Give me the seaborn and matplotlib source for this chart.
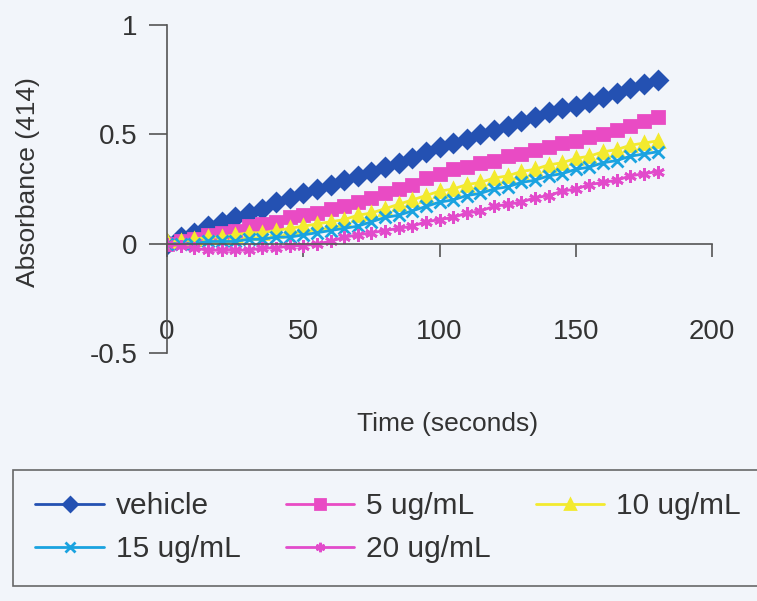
import matplotlib
matplotlib.use("Agg")
import matplotlib.pyplot as plt
import seaborn as sns
import pandas as pd

# time points (seconds)
time_s = [0, 5, 10, 15, 20, 25, 30, 35, 40, 45, 50, 55, 60, 65, 70, 75, 80, 85, 90,
          95, 100, 105, 110, 115, 120, 125, 130, 135, 140, 145, 150, 155, 160, 165,
          170, 175, 180]

# absorbance readings per treatment
vehicle = [0.00, 0.03, 0.05, 0.08, 0.10, 0.12, 0.14, 0.16, 0.19, 0.21, 0.23, 0.25,
           0.27, 0.29, 0.31, 0.33, 0.35, 0.37, 0.39, 0.42, 0.44, 0.46, 0.48, 0.50,
           0.52, 0.54, 0.56, 0.58, 0.60, 0.62, 0.63, 0.65, 0.67, 0.69, 0.71, 0.73, 0.75]
ug5 = [0.00, 0.01, 0.02, 0.04, 0.05, 0.06, 0.08, 0.09, 0.10, 0.12, 0.13, 0.14,
       0.16, 0.17, 0.19, 0.21, 0.23, 0.25, 0.27, 0.30, 0.32, 0.34, 0.35, 0.37,
       0.38, 0.40, 0.41, 0.43, 0.44, 0.46, 0.47, 0.49, 0.50, 0.52, 0.54, 0.56, 0.58]
ug10 = [0.01, 0.01, 0.02, 0.03, 0.03, 0.04, 0.05, 0.05, 0.06, 0.07, 0.08, 0.09,
        0.10, 0.11, 0.13, 0.14, 0.16, 0.18, 0.20, 0.22, 0.24, 0.25, 0.27, 0.28,
        0.30, 0.31, 0.33, 0.34, 0.36, 0.37, 0.39, 0.40, 0.42, 0.43, 0.45, 0.46, 0.47]
ug15 = [0.00, 0.00, 0.00, 0.01, 0.01, 0.01, 0.02, 0.02, 0.03, 0.03, 0.04, 0.05,
        0.06, 0.07, 0.08, 0.10, 0.12, 0.13, 0.15, 0.17, 0.19, 0.20, 0.22, 0.23,
        0.25, 0.26, 0.28, 0.29, 0.31, 0.32, 0.34, 0.35, 0.37, 0.38, 0.40, 0.41, 0.42]
ug20 = [0.00, -0.01, -0.02, -0.03, -0.03, -0.03, -0.03, -0.02, -0.02, -0.01, -0.01, 0.00,
        0.01, 0.03, 0.04, 0.05, 0.06, 0.07, 0.08, 0.10, 0.11, 0.12, 0.14, 0.15,
        0.17, 0.18, 0.19, 0.21, 0.22, 0.24, 0.25, 0.27, 0.28, 0.29, 0.31, 0.32, 0.33]

labels = ["vehicle", "5 ug/mL", "10 ug/mL", "15 ug/mL", "20 ug/mL"]
series = [vehicle, ug5, ug10, ug15, ug20]
colors = ["#2451B2", "#E94BC4", "#F3EA2E", "#1AA3E0", "#E24BCB"]
markers = ["D", "s", "^", "x", (6, 2, 0)]

sns.set_style("white")
plt.rcParams["font.family"] = ["Liberation Sans", "DejaVu Sans"]
bg = "#F2F5FA"

fig = plt.figure(figsize=(7.57, 6.01), dpi=100, facecolor=bg)
ax = fig.add_axes([167 / 757, 1 - 353 / 601, 545 / 757, 328 / 601], facecolor=bg)

for lab, vals, col, mk in zip(labels, series, colors, markers):
    df = pd.DataFrame({"time": time_s, "abs": vals})
    sns.lineplot(data=df, x="time", y="abs", ax=ax, color=col, marker=mk,
                 markersize=9, markeredgecolor=col, markeredgewidth=2,
                 linewidth=2, label=lab)

ax.set_xlim(0, 200)
ax.set_ylim(-0.5, 1)
ax.set_xticks([0, 50, 100, 150, 200])
ax.set_yticks([-0.5, 0, 0.5, 1])
ax.set_yticklabels(["-0.5", "0", "0.5", "1"])

for s in ["top", "right"]:
    ax.spines[s].set_visible(False)
ax.spines["bottom"].set_position(("data", 0))
for s in ["left", "bottom"]:
    ax.spines[s].set_color("#555555")
    ax.spines[s].set_linewidth(1.2)

ax.tick_params(axis="y", direction="out", length=13, width=1.2, color="#555555",
               labelsize=20, labelcolor="#333333", pad=8, left=True)
ax.tick_params(axis="x", direction="out", length=9, width=1.2, color="#555555",
               labelsize=20, labelcolor="#333333", pad=45, bottom=True)

ax.set_xlabel("Time (seconds)", fontsize=19, color="#333333")
ax.set_ylabel("Absorbance (414)", fontsize=19, color="#333333")
ax.xaxis.set_label_coords(0.514, -0.18)
ax.yaxis.set_label_coords(-0.233, 0.52)

handles, labs = ax.get_legend_handles_labels()
ax.get_legend().remove()
order = [0, 3, 1, 4, 2]
leg = fig.legend([handles[i] for i in order], [labs[i] for i in order],
                 loc="upper left", bbox_to_anchor=(13 / 757, 1 - 470 / 601),
                 borderaxespad=0, ncol=3, fontsize=21.5, frameon=True,
                 fancybox=False, handlelength=2.3, columnspacing=1.5,
                 handletextpad=0.4, labelspacing=0.5, borderpad=0.75,
                 markerscale=0.75)
leg.get_frame().set_edgecolor("#444444")
leg.get_frame().set_facecolor(bg)
leg.get_frame().set_linewidth(1.2)
for t in leg.get_texts():
    t.set_color("#333333")

fig.savefig("out.png", dpi=100, facecolor=bg)
